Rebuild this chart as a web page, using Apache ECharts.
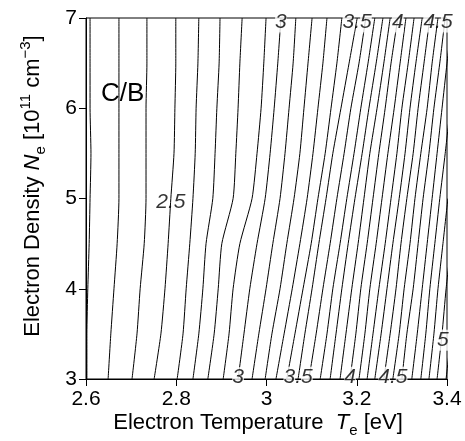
<!DOCTYPE html>
<html>
<head>
<meta charset="utf-8">
<script src="https://cdn.jsdelivr.net/npm/echarts@6/dist/echarts.min.js"></script>
<style>
  html, body { margin: 0; padding: 0; background: #fff; }
  #chart { width: 465px; height: 441px; }
</style>
</head>
<body>
<div id="chart"></div>
<script>
// electron density samples (y) shared by every contour line
var neSamples = [3, 3.5, 4, 4.5, 5, 5.5, 6, 6.5, 7];

// contour levels of C/B and the electron temperature of each line at neSamples
var levels = [2.2, 2.3, 2.4, 2.5, 2.6, 2.7, 2.8, 2.9, 3.0, 3.1, 3.2, 3.3, 3.4, 3.5,
              3.6, 3.7, 3.8, 3.9, 4.0, 4.1, 4.2, 4.3, 4.4, 4.5, 4.6, 4.7, 4.8, 4.9, 5.0, 5.1];
var teLines = [
  [2.602, 2.602, 2.604, 2.607, 2.609, 2.611, 2.609, 2.609, 2.609],
  [2.649, 2.655, 2.662, 2.669, 2.673, 2.673, 2.673, 2.673, 2.673],
  [2.702, 2.713, 2.720, 2.729, 2.733, 2.733, 2.733, 2.735, 2.735],
  [2.751, 2.766, 2.775, 2.782, 2.788, 2.795, 2.797, 2.799, 2.799],
  [2.802, 2.815, 2.822, 2.830, 2.837, 2.842, 2.844, 2.848, 2.850],
  [2.837, 2.850, 2.859, 2.866, 2.881, 2.886, 2.890, 2.895, 2.897],
  [2.870, 2.884, 2.893, 2.901, 2.926, 2.932, 2.937, 2.941, 2.946],
  [2.904, 2.917, 2.926, 2.941, 2.968, 2.979, 2.988, 2.994, 2.999],
  [2.937, 2.950, 2.963, 2.979, 2.997, 3.008, 3.017, 3.025, 3.032],
  [2.968, 2.983, 2.999, 3.014, 3.030, 3.041, 3.050, 3.059, 3.065],
  [2.997, 3.012, 3.030, 3.045, 3.061, 3.074, 3.083, 3.092, 3.101],
  [3.021, 3.039, 3.057, 3.074, 3.090, 3.103, 3.114, 3.125, 3.134],
  [3.045, 3.063, 3.081, 3.099, 3.114, 3.130, 3.143, 3.156, 3.167],
  [3.070, 3.085, 3.101, 3.116, 3.132, 3.147, 3.165, 3.183, 3.201],
  [3.094, 3.110, 3.125, 3.141, 3.156, 3.172, 3.187, 3.205, 3.220],
  [3.119, 3.134, 3.147, 3.163, 3.178, 3.194, 3.209, 3.225, 3.240],
  [3.141, 3.154, 3.167, 3.181, 3.196, 3.212, 3.227, 3.243, 3.258],
  [3.163, 3.176, 3.189, 3.203, 3.216, 3.229, 3.245, 3.260, 3.274],
  [3.185, 3.198, 3.209, 3.223, 3.236, 3.249, 3.263, 3.276, 3.291],
  [3.205, 3.218, 3.229, 3.243, 3.256, 3.269, 3.283, 3.296, 3.309],
  [3.223, 3.236, 3.249, 3.263, 3.276, 3.289, 3.300, 3.314, 3.327],
  [3.240, 3.254, 3.267, 3.280, 3.294, 3.307, 3.318, 3.331, 3.345],
  [3.260, 3.274, 3.287, 3.298, 3.311, 3.325, 3.336, 3.349, 3.362],
  [3.280, 3.294, 3.305, 3.318, 3.329, 3.342, 3.356, 3.367, 3.380],
  [3.300, 3.311, 3.325, 3.336, 3.347, 3.360, 3.371, 3.384, 3.396],
  [3.322, 3.334, 3.345, 3.356, 3.367, 3.378, 3.389, 3.400, 3.411],
  [3.342, 3.353, 3.362, 3.373, 3.384, 3.396, 3.407],
  [3.360, 3.371, 3.380, 3.391, 3.402],
  [3.378, 3.389, 3.398, 3.409],
  [3.398, 3.409]
];

// contour labels
var labelText = ['2.5', '3', '3.5', '4', '4.5', '3', '3.5', '4', '4.5', '5'];
var labelTe = [2.788, 3.032, 3.201, 3.291, 3.380, 2.937, 3.070, 3.185, 3.280, 3.391];
var labelNe = [4.96, 6.955, 6.955, 6.955, 6.955, 3.015, 3.02, 3.02, 3.02, 3.43];

// tick labels
var xTicks = ['2.6', '2.8', '3', '3.2', '3.4'];
var yTicks = ['3', '4', '5', '6', '7'];

var font = '"Liberation Sans", Arial, sans-serif';
var chart = echarts.init(document.getElementById('chart'));

var series = teLines.map(function (te, k) {
  return {
    name: String(levels[k]),
    type: 'line',
    symbol: 'none',
    smooth: 0.2,
    clip: true,
    lineStyle: { color: '#000', width: 1 },
    data: te.map(function (t, i) { return [t, neSamples[i]]; })
  };
});

series.push({
  type: 'scatter',
  symbolSize: 0,
  z: 5,
  data: labelText.map(function (s, i) { return [labelTe[i], labelNe[i], s]; }),
  label: {
    show: true,
    position: 'inside',
    formatter: function (p) {
      return p.value[2].split('.').map(function (d) { return '{d|' + d + '}'; }).join('{p|.}');
    },
    rich: {
      d: { fontFamily: font, fontSize: 21, fontStyle: 'italic', color: '#000', backgroundColor: '#fff' },
      p: { fontFamily: font, fontSize: 21, fontStyle: 'italic', color: '#000' }
    }
  }
});

chart.setOption({
  animation: false,
  grid: { left: 86, right: 18, top: 18, bottom: 62, show: true, borderColor: '#000', borderWidth: 1 },
  xAxis: {
    type: 'value', min: 2.6, max: 3.4, interval: 0.2,
    axisLine: { onZero: false, lineStyle: { color: '#000', width: 1 } },
    axisTick: { length: 7, lineStyle: { color: '#000' } },
    splitLine: { show: false },
    axisLabel: {
      color: '#000', fontSize: 21, fontFamily: font, margin: 10,
      formatter: function (v) { return xTicks[Math.round((v - 2.6) / 0.2)]; }
    }
  },
  yAxis: {
    type: 'value', min: 3, max: 7, interval: 1,
    axisLine: { onZero: false, lineStyle: { color: '#000', width: 1 } },
    axisTick: { length: 7, lineStyle: { color: '#000' } },
    splitLine: { show: false },
    axisLabel: {
      color: '#000', fontSize: 21, fontFamily: font, margin: 9,
      formatter: function (v) { return yTicks[Math.round(v - 3)]; }
    }
  },
  graphic: [
    {
      type: 'text', left: 101, top: 81, z: 10,
      style: { text: 'C/B', font: '26px ' + font, fill: '#000' }
    },
    {
      type: 'text', x: 258, y: 423, z: 10,
      style: {
        text: '{n|Electron Temperature  }{i|T}{s|e}{n| [eV]}',
        textAlign: 'center', textVerticalAlign: 'middle', fill: '#000',
        rich: {
          n: { fontFamily: font, fontSize: 22, fill: '#000' },
          i: { fontFamily: font, fontSize: 22, fontStyle: 'italic', fill: '#000' },
          s: { fontFamily: font, fontSize: 15, fill: '#000', padding: [16, 0, 0, 0] }
        }
      }
    },
    {
      type: 'text', x: 33, y: 186, rotation: Math.PI / 2, z: 10,
      style: {
        text: '{n|Electron Density }{i|N}{s|e}{n| [10}{p|11}{n| cm}{p|\u22123}{n|]}',
        textAlign: 'center', textVerticalAlign: 'middle', fill: '#000',
        rich: {
          n: { fontFamily: font, fontSize: 22, fill: '#000' },
          i: { fontFamily: font, fontSize: 22, fontStyle: 'italic', fill: '#000' },
          s: { fontFamily: font, fontSize: 15, fill: '#000', padding: [16, 0, 0, 0] },
          p: { fontFamily: font, fontSize: 15, fill: '#000', padding: [0, 0, 14, 0] }
        }
      }
    }
  ],
  series: series
});
</script>
</body>
</html>
